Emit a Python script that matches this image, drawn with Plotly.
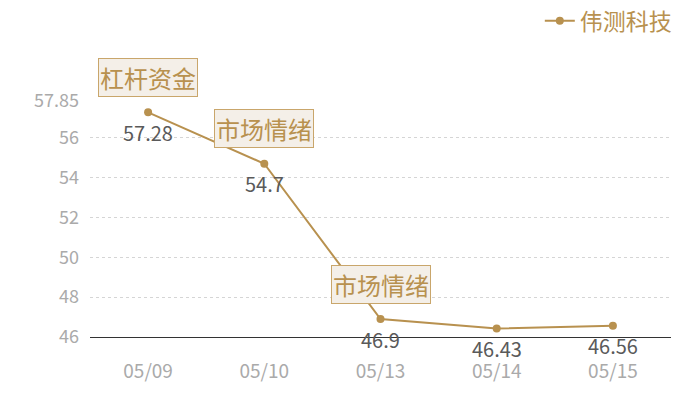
import plotly.graph_objects as go

dates = ["05/09", "05/10", "05/13", "05/14", "05/15"]
values = [57.28, 54.7, 46.9, 46.43, 46.56]
labels = ["57.28", "54.7", "46.9", "46.43", "46.56"]
series_name = "伟测科技"

# tagged points: (date, tag text)
tags = [("05/09", "杠杆资金"), ("05/10", "市场情绪"), ("05/13", "市场情绪")]

y_ticks = [46, 48, 50, 52, 54, 56, 57.85]
y_tick_text = ["46", "48", "50", "52", "54", "56", "57.85"]

gold = "#b8914f"
font = "Noto Sans CJK SC"

fig = go.Figure()
fig.add_trace(go.Scatter(
    x=dates, y=values, name=series_name,
    mode="lines+markers",
    line=dict(color=gold, width=2),
    marker=dict(color=gold, size=8),
    cliponaxis=False,
))

# value labels under each point
for d, v, lab in zip(dates, values, labels):
    fig.add_annotation(
        x=d, y=v, text=lab, showarrow=False, yshift=-20,
        font=dict(color="#5a5a5a", size=20, family=font),
    )

for d, t in tags:
    v = values[dates.index(d)]
    fig.add_annotation(
        x=d, y=v, text=t, showarrow=False, yshift=35,
        font=dict(color=gold, size=24, family=font),
        bgcolor="#f4efe8", bordercolor="#c9a66b", borderwidth=1, borderpad=1,
    )

# page has an 8px body margin, so the figure is shrunk to fit the window
fig.update_layout(
    width=692, height=392,
    margin=dict(l=82, r=29, t=93, b=63, autoexpand=False),
    paper_bgcolor="white", plot_bgcolor="white",
    font=dict(family=font),
    showlegend=True,
    legend=dict(
        x=1.01, y=1.34, xanchor="right", yanchor="middle",
        font=dict(color=gold, size=23, family=font),
        itemwidth=30, bgcolor="rgba(0,0,0,0)",
    ),
    xaxis=dict(
        type="category", range=[-0.5, 4.5], showgrid=False,
        showline=True, linecolor="#333", linewidth=1,
        ticks="", tickfont=dict(color="#aaaaaa", size=19),
        ticklabelstandoff=17,
    ),
    yaxis=dict(
        range=[46, 57.85], tickvals=y_ticks, ticktext=y_tick_text,
        showgrid=True, gridcolor="#d5d5d5", griddash="dot", gridwidth=1,
        zeroline=False, showline=False,
        tickfont=dict(color="#aaaaaa", size=18),
        ticklabelstandoff=10,
    ),
)

fig.write_html("out.html")
